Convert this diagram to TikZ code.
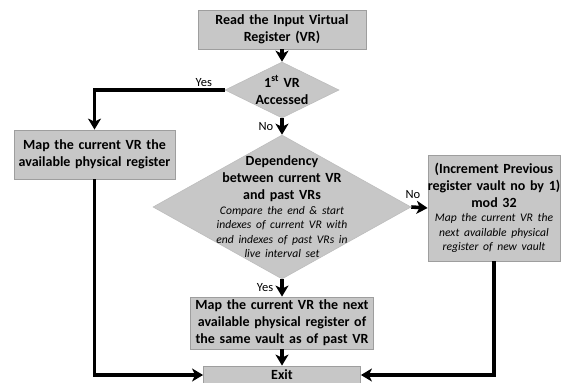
\documentclass[tikz,border=0pt]{standalone}
\usepackage{fontspec}
\setmainfont{Carlito}
\usetikzlibrary{shapes.geometric,arrows.meta}

\tikzset{
  box/.style={draw=black!38,fill=black!22,line width=0.8pt,inner sep=0pt},
  decision/.style={diamond,draw=black!26,fill=black!22,line width=0.6pt,inner sep=0pt},
  body/.style={text width=200pt,align=center,inner sep=0pt,font=\bfseries\fontsize{14}{17}\selectfont},
  flow/.style={line width=3.6pt,-{Stealth[length=11pt,width=13pt,inset=3pt]}},
  tag/.style={font=\fontsize{12.5}{14}\selectfont,inner sep=1pt}
}
\newcommand{\detail}[1]{{\itshape\mdseries\fontsize{11.6}{14.5}\selectfont #1\par}}

\begin{document}
\begin{tikzpicture}[x=1pt,y=-1pt]
      \useasboundingbox (0,0) rectangle (566,383);
      \def\midx{282}

      \node[box,minimum width=168pt,minimum height=39pt] (read) at (\midx,29.5) {};
      \node[body] (readtxt) at (read) {Read the Input Virtual\\Register (VR)};

      \node[decision,minimum width=114pt,minimum height=56pt] (first) at (\midx,90) {};
      \node[body] (firsttxt) at (first) {1\textsuperscript{st} VR\\Accessed};

      \node[box,minimum width=161pt,minimum height=49pt] (avail) at (94.5,154.5) {};
      \node[body] (availtxt) at (avail) {Map the current VR the\\available physical register};

      \node[decision,minimum width=258pt,minimum height=144pt] (dep) at (\midx,207) {};
      \node[body] (deptxt) at (dep) {Dependency\\between current VR\\and past VRs\par
        \detail{Compare the end \& start\\indexes of current VR with\\end indexes of past VRs in\\live interval set}};

      \node[box,minimum width=132pt,minimum height=106pt] (vault) at (494,208) {};
      \node[body] (vaulttxt) at (vault) {(Increment Previous\\register vault no by 1)\\mod 32\par
        \detail{Map the current VR the\\next available physical\\register of new vault}};

      \node[box,minimum width=183pt,minimum height=52pt] (same) at (\midx,323) {};
      \node[body] (sametxt) at (same) {Map the current VR the next\\available physical register of\\the same vault as of past VR};

      \node[box,minimum width=157pt,minimum height=18pt] (exit) at (\midx,375) {};
      \node[body] (exittxt) at (exit) {Exit};

      \draw[flow] (read) -- (first);
      \draw[flow] (first.west) -| (avail.north) node[tag,pos=0.08,above=1pt] {Yes};
      \draw[flow] (first.south) -- (dep.north) node[tag,midway,left=6pt] {No};
      \draw[flow] (dep.east) -- (vault.west) node[tag,pos=0.1,above=6pt] {No};
      \draw[flow] (dep.south) -- (same.north) node[tag,midway,left=6pt] {Yes};
      \draw[flow] (same) -- (exit);
      \draw[flow] (avail.south) |- (exit.west);
      \draw[flow] (vault.south) |- (exit.east);
    \end{tikzpicture}
\end{document}
